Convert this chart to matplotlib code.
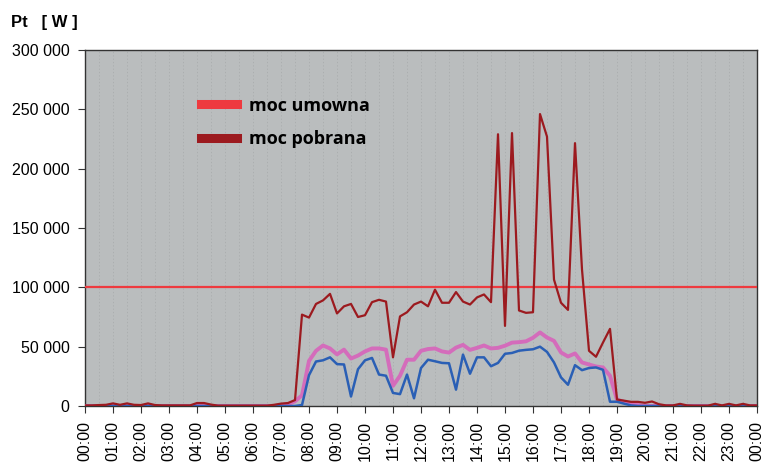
import numpy as np
import matplotlib.pyplot as plt
from matplotlib.lines import Line2D

# 15-minute readings, 00:00 .. 24:00 (97 points)
moc_pobrana = [500, 500, 800, 1000, 2200, 1000, 2200, 1000, 800, 2200,
               800, 500, 500, 500, 500, 500, 2500, 2500, 1200, 300,
               300, 300, 300, 300, 300, 300, 300, 1000, 2000, 2500,
               5000, 77000, 74500, 86000, 89000, 94500, 78000, 84000, 86000, 75000,
               76500, 87500, 89500, 88000, 41000, 75500, 79000, 85500, 88000, 84000,
               98000, 87000, 87000, 96000, 88000, 85500, 91500, 94000, 87500, 229000,
               67500, 230000, 80500, 78500, 79000, 246000, 227000, 106500, 87000, 81000,
               221500, 115000, 46500, 41500, 53500, 65000, 5500, 4500, 3500, 3500,
               2700, 3800, 1500, 500, 500, 1800, 500, 300, 300, 300,
               1800, 500, 1800, 500, 1800, 500, 500]

moc_rozowa = [0] * 28 + [500, 1500, 4000, 9000, 38000, 46500, 51000, 48500, 43500, 47500,
                         40000, 42500, 46000, 48500, 48500, 47500, 17000, 25500, 39000, 39000,
                         46500, 48000, 48500, 46000, 45000, 49200, 51500, 47300, 49000, 51000,
                         48500, 49000, 50800, 53400, 53800, 54500, 57500, 62000, 57700, 54900,
                         45100, 41700, 44300, 36700, 35000, 33300, 32500, 25500, 5300, 3500,
                         2000, 800] + [0] * 17

moc_niebieska = [0] * 31 + [800, 26000, 37500, 38500, 41000, 35300, 35000, 8000, 31000,
                            38500, 40500, 26500, 25500, 11000, 10000, 26500, 6500, 32000, 39000,
                            37700, 36300, 36000, 13800, 43300, 27200, 41000, 41000, 33500, 36300,
                            44000, 44700, 46600, 47300, 47800, 50000, 45600, 36700, 24100, 17900,
                            34400, 30200, 32000, 32500, 30500, 3600, 3600, 2000, 500] + [0] * 18

moc_umowna = 100000
godziny = ['%02d:00' % (h % 24) for h in range(25)]

t = np.arange(len(moc_pobrana)) * 0.25

fig = plt.figure(figsize=(7.64, 4.75), dpi=100)
ax = fig.add_axes([85/764, 1 - 406/475, 672/764, 356/475])
ax.set_facecolor('#babdbe')

ax.axhline(moc_umowna, color='#ee3a3f', lw=1.6, zorder=3)
ax.plot(t, moc_rozowa, color='#d46cbb', lw=2.8, zorder=4)
ax.plot(t, moc_niebieska, color='#2a5fb5', lw=1.8, zorder=5)
ax.plot(t, moc_pobrana, color='#9c1a1f', lw=1.6, zorder=6)

ax.set_xlim(0, 24)
ax.set_ylim(0, 300000)
ax.set_xticks(range(25))
ax.set_xticklabels(godziny, rotation=90, fontsize=11.5, family='Liberation Sans')
ax.set_xticks(np.arange(0, 24.01, 0.5), minor=True)
ax.tick_params(axis='x', which='minor', length=0)
ax.set_yticks(range(0, 300001, 50000))
ax.set_yticklabels(['0' if v == 0 else '%d 000' % (v // 1000) for v in range(0, 300001, 50000)],
                   fontsize=11.5, family='Liberation Sans')
ax.tick_params(axis='both', which='major', length=5, pad=6, color='#333333')
ax.grid(axis='x', which='both', color='#a9acad', linestyle=(0, (1.5, 2.5)), lw=0.6)
for s in ax.spines.values():
    s.set_color('#333333')
    s.set_linewidth(1)

h = [Line2D([], [], color='#ee3a3f', lw=6.5), Line2D([], [], color='#9c1a1f', lw=6.5)]
ax.legend(h, ['moc umowna', 'moc pobrana'], loc='upper left', bbox_to_anchor=(0.148, 0.915),
          frameon=False, handlelength=2.0, handletextpad=0.7, labelspacing=0.85,
          prop={'family': 'Open Sans', 'weight': 'bold', 'size': 13})

fig.text(0.015, 0.953, 'Pt   [ W ]', fontsize=12, fontweight='bold', family='Liberation Sans',
         va='center')

plt.savefig('out.png', dpi=100)
